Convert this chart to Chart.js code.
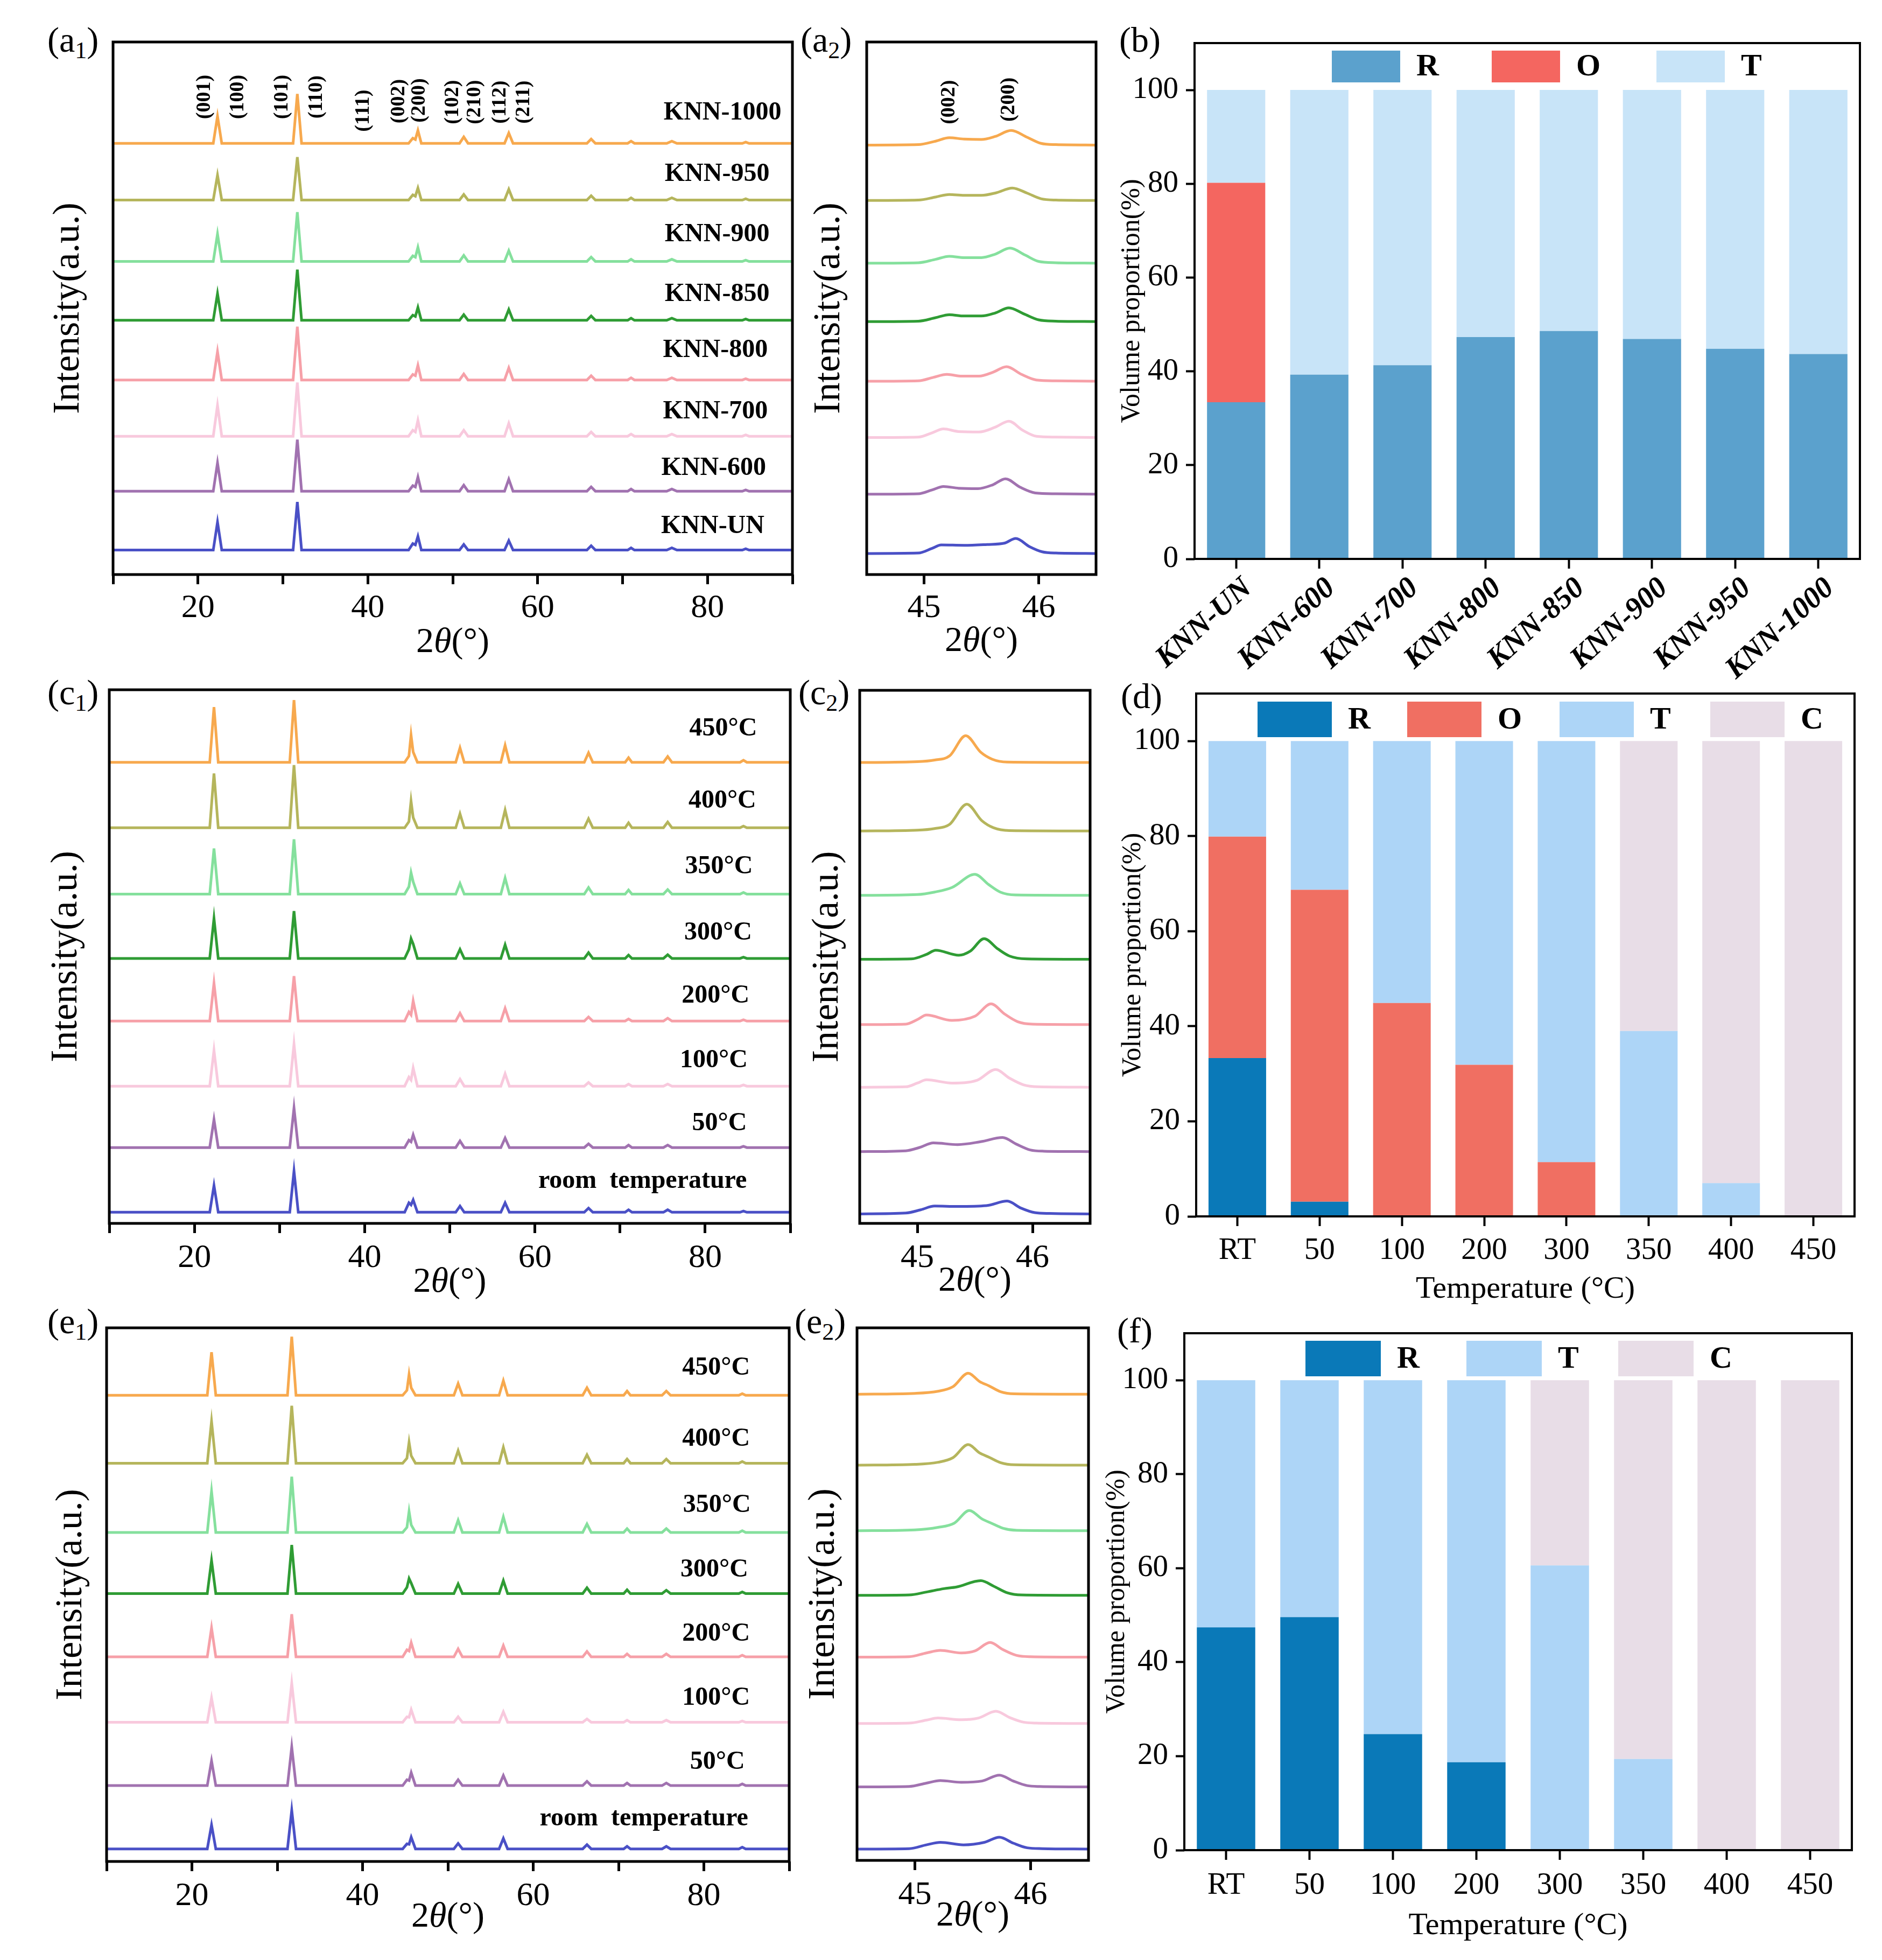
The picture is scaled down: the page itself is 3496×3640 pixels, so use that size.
<!DOCTYPE html>
<html>
<head>
<meta charset="utf-8">
<script src="https://cdn.jsdelivr.net/npm/chart.js@4.4.1/dist/chart.umd.min.js"></script>
<style>
  body { margin: 0; background: #fff; }
  #page { position: relative; width: 3496px; height: 3640px; background: #fff; overflow: hidden; font-family: "Liberation Serif", serif; }
  canvas { position: absolute; }
  .tag { position: absolute; font-size: 66px; line-height: 1; color: #000; white-space: nowrap; }
  .tag sub { font-size: 44px; vertical-align: -0.28em; }
</style>
</head>
<body>
<div id="page">
  <div class="tag" style="left:88px;top:41px">(a<sub>1</sub>)</div>
  <div class="tag" style="left:1487px;top:41px">(a<sub>2</sub>)</div>
  <div class="tag" style="left:2079px;top:41px">(b)</div>
  <div class="tag" style="left:88px;top:1253px">(c<sub>1</sub>)</div>
  <div class="tag" style="left:1483px;top:1253px">(c<sub>2</sub>)</div>
  <div class="tag" style="left:2082px;top:1260px">(d)</div>
  <div class="tag" style="left:88px;top:2421px">(e<sub>1</sub>)</div>
  <div class="tag" style="left:1476px;top:2421px">(e<sub>2</sub>)</div>
  <div class="tag" style="left:2075px;top:2438px">(f)</div>
</div>
<script>
// curve colours, top trace first
const curveColors = ['#F7A94E', '#B5B55C', '#85E09D', '#2F9C34', '#F6A0A8', '#F8C9DD', '#A172B0', '#4A50C6'];

// ---------- (a1) full scans of the annealed series ----------
const a1Names = ['KNN-1000', 'KNN-950', 'KNN-900', 'KNN-850', 'KNN-800', 'KNN-700', 'KNN-600', 'KNN-UN'];
const a1Offsets = [1004, 872, 729, 592, 453, 322, 194, 57];
const a1Base = [10, 21.8, 22.8, 31.2, 32.2, 44.8, 46.3, 50.8, 51.8, 56.1, 57.1, 65.8, 66.8, 70.6, 71.4, 75.2, 76.4, 84.1, 84.9, 90];
const a1PeakPos = [22.3, 31.7, 45.3, 45.6, 45.9, 51.3, 56.6, 66.3, 71.0, 75.8, 84.5];
const a1Heights = [
  [63, 115, 12, 9, 30, 15, 24, 10, 5, 5, 3],
  [58, 100, 12, 9, 28, 13, 25, 10, 5, 5, 3],
  [64, 115, 13, 10, 33, 14, 25, 10, 5, 5, 3],
  [62, 118, 12, 9, 30, 13, 25, 10, 5, 5, 3],
  [66, 124, 13, 10, 34, 14, 28, 10, 5, 5, 3],
  [72, 125, 14, 10, 37, 14, 30, 10, 5, 5, 3],
  [66, 120, 13, 10, 33, 14, 28, 10, 5, 5, 3],
  [65, 112, 15, 12, 32, 13, 22, 10, 5, 5, 3]
];
const a1LabelX = [88.7, 87.3, 87.3, 87.3, 87.1, 87.1, 86.9, 86.7];
const a1LabelY = [1075, 932, 792, 652, 522, 379, 247, 112];
const a1HklText = ['(001)', '(100)', '(101)', '(110)', '(111)', '(002)', '(200)', '(102)', '(210)', '(112)', '(211)'];
const a1HklX = [20.8, 24.7, 29.9, 34.0, 39.5, 43.7, 46.1, 50.0, 52.6, 55.6, 58.4];
const a1HklY = [1112, 1112, 1112, 1112, 1080, 1102, 1104, 1100, 1100, 1100, 1100];

// ---------- (a2) 44.5-46.5 window ----------
const a2Offsets = [1000, 871, 725, 589, 450, 319, 187, 49];
const a2Curves = [
  [[44.5, 0], [44.95, 1], [45.1, 9], [45.22, 17], [45.35, 14], [45.5, 13], [45.62, 20], [45.76, 34], [45.9, 18], [46.02, 4], [46.15, 1], [46.5, 0]],
  [[44.5, 0], [44.95, 1], [45.1, 8], [45.22, 14], [45.35, 12], [45.5, 12], [45.63, 18], [45.77, 29], [45.9, 17], [46.02, 4], [46.15, 1], [46.5, 0]],
  [[44.5, 0], [44.95, 1], [45.1, 9], [45.22, 16], [45.35, 13], [45.5, 13], [45.62, 21], [45.75, 35], [45.88, 19], [46.0, 4], [46.15, 1], [46.5, 0]],
  [[44.5, 0], [44.95, 1], [45.1, 9], [45.22, 16], [45.35, 13], [45.5, 13], [45.62, 20], [45.74, 32], [45.87, 18], [46.0, 4], [46.15, 1], [46.5, 0]],
  [[44.5, 0], [44.95, 1], [45.08, 9], [45.2, 16], [45.33, 12], [45.48, 12], [45.6, 21], [45.72, 34], [45.85, 16], [45.98, 3], [46.15, 1], [46.5, 0]],
  [[44.5, 0], [44.95, 1], [45.07, 11], [45.17, 20], [45.3, 14], [45.48, 13], [45.62, 24], [45.74, 38], [45.86, 17], [45.98, 3], [46.15, 1], [46.5, 0]],
  [[44.5, 0], [44.95, 1], [45.07, 10], [45.17, 18], [45.3, 14], [45.47, 13], [45.6, 22], [45.71, 36], [45.84, 16], [45.97, 3], [46.15, 1], [46.5, 0]],
  [[44.5, 0], [44.95, 1], [45.07, 12], [45.15, 20], [45.35, 19], [45.55, 21], [45.7, 24], [45.8, 35], [45.92, 16], [46.03, 4], [46.15, 1], [46.5, 0]]
];
const a2HklText = ['(002)', '(200)'];
const a2HklX = [45.22, 45.74];
const a2HklY = [1100, 1106];

// ---------- temperature series (c: heating, e: second run) ----------
const tempNames = ['450°C', '400°C', '350°C', '300°C', '200°C', '100°C', '50°C', 'room  temperature'];
const scanBase = [10, 21.8, 22.8, 31.2, 32.2, 44.7, 46.2, 50.7, 51.7, 56.0, 57.0, 65.8, 66.8, 70.6, 71.4, 75.1, 76.1, 84.1, 84.9, 90];
const scanPeakPos = [22.3, 31.7, 45.2, 45.45, 45.7, 51.2, 56.5, 66.3, 71.0, 75.6, 84.5];

const c1Offsets = [1119, 960, 799, 643, 491, 333, 184, 27];
const c1Heights = [
  [134, 151, 15, 66, 25, 35, 41, 23, 11, 14, 5],
  [132, 152, 15, 65, 25, 34, 43, 22, 12, 14, 4],
  [111, 133, 18, 52, 30, 26, 39, 16, 10, 11, 4],
  [97, 115, 22, 48, 35, 22, 33, 14, 8, 9, 3],
  [92, 109, 22, 15, 49, 19, 31, 10, 5, 7, 3],
  [87, 102, 22, 15, 44, 17, 30, 9, 5, 5, 3],
  [68, 96, 18, 14, 31, 16, 23, 9, 6, 6, 3],
  [65, 100, 23, 18, 30, 15, 23, 10, 6, 6, 3]
];
const c1LabelX = [86.1, 86.0, 85.6, 85.5, 85.2, 85.0, 84.9, 84.9];
const c1LabelY = [1200, 1025, 865, 705, 552, 395, 242, 102];

const c2Offsets = [1117, 951, 795, 640, 482, 330, 174, 23];
const c2Curves = [
  [[44.5, 0], [45.0, 2], [45.15, 6], [45.28, 16], [45.42, 65], [45.55, 25], [45.65, 8], [45.78, 1], [46.5, 0]],
  [[44.5, 0], [45.0, 2], [45.15, 6], [45.28, 16], [45.43, 65], [45.56, 25], [45.66, 8], [45.8, 1], [46.5, 0]],
  [[44.5, 0], [45.0, 2], [45.15, 8], [45.3, 19], [45.5, 51], [45.62, 26], [45.72, 8], [45.85, 1], [46.5, 0]],
  [[44.5, 0], [44.95, 1], [45.08, 12], [45.16, 22], [45.36, 10], [45.46, 20], [45.58, 50], [45.7, 25], [45.8, 8], [45.95, 1], [46.5, 0]],
  [[44.5, 0], [44.9, 1], [45.0, 12], [45.08, 23], [45.3, 10], [45.5, 20], [45.64, 50], [45.76, 25], [45.87, 7], [46.0, 1], [46.5, 0]],
  [[44.5, 0], [44.9, 1], [45.0, 10], [45.08, 18], [45.3, 10], [45.52, 17], [45.68, 43], [45.8, 22], [45.92, 6], [46.05, 1], [46.5, 0]],
  [[44.5, 0], [44.9, 2], [45.02, 10], [45.14, 21], [45.35, 17], [45.55, 24], [45.74, 34], [45.86, 18], [45.98, 4], [46.1, 1], [46.5, 0]],
  [[44.5, 0], [44.9, 2], [45.03, 10], [45.15, 19], [45.35, 18], [45.6, 20], [45.78, 31], [45.9, 14], [46.02, 3], [46.15, 1], [46.5, 0]]
];

const e1Offsets = [1112, 950, 785, 639, 488, 332, 181, 30];
const e1Heights = [
  [103, 140, 12, 50, 18, 28, 35, 18, 10, 10, 4],
  [100, 137, 12, 50, 18, 30, 38, 20, 10, 10, 4],
  [98, 133, 12, 50, 18, 29, 37, 20, 9, 9, 4],
  [79, 116, 15, 36, 25, 23, 31, 14, 9, 8, 4],
  [69, 102, 17, 14, 34, 19, 27, 13, 7, 7, 4],
  [58, 93, 13, 12, 30, 13, 25, 8, 5, 5, 3],
  [59, 92, 14, 12, 31, 14, 24, 10, 6, 6, 4],
  [57, 92, 12, 11, 28, 13, 25, 10, 6, 6, 4]
];
const e1LabelX = [85.4, 85.4, 85.5, 85.2, 85.4, 85.4, 84.8, 85.2];
const e1LabelY = [1177, 1008, 850, 695, 543, 390, 237, 102];

const e2Offsets = [1110, 941, 785, 631, 484, 326, 175, 27];
const e2Curves = [
  [[44.5, 0], [45.0, 2], [45.2, 7], [45.33, 18], [45.46, 50], [45.56, 30], [45.64, 20], [45.74, 6], [45.86, 1], [46.5, 0]],
  [[44.5, 0], [45.0, 2], [45.2, 7], [45.33, 18], [45.46, 49], [45.56, 29], [45.64, 19], [45.74, 6], [45.86, 1], [46.5, 0]],
  [[44.5, 0], [45.0, 2], [45.2, 8], [45.34, 18], [45.47, 48], [45.58, 28], [45.66, 18], [45.76, 6], [45.88, 1], [46.5, 0]],
  [[44.5, 0], [44.95, 1], [45.1, 8], [45.25, 16], [45.36, 20], [45.57, 35], [45.68, 22], [45.8, 6], [45.92, 1], [46.5, 0]],
  [[44.5, 0], [44.95, 1], [45.1, 10], [45.22, 16], [45.4, 10], [45.52, 15], [45.65, 35], [45.76, 18], [45.88, 4], [46.0, 1], [46.5, 0]],
  [[44.5, 0], [44.95, 1], [45.1, 8], [45.2, 13], [45.4, 9], [45.55, 13], [45.7, 29], [45.82, 14], [45.94, 3], [46.05, 1], [46.5, 0]],
  [[44.5, 0], [44.95, 1], [45.1, 9], [45.22, 15], [45.4, 11], [45.58, 14], [45.73, 28], [45.85, 14], [45.97, 3], [46.08, 1], [46.5, 0]],
  [[44.5, 0], [44.95, 1], [45.1, 10], [45.22, 16], [45.42, 10], [45.6, 16], [45.73, 28], [45.85, 14], [45.97, 3], [46.1, 1], [46.5, 0]]
];

// ---------- phase fractions (%) ----------
const bCats = ['KNN-UN', 'KNN-600', 'KNN-700', 'KNN-800', 'KNN-850', 'KNN-900', 'KNN-950', 'KNN-1000'];
const bR = [33.4, 39.3, 41.3, 47.3, 48.6, 46.9, 44.8, 43.7];
const bO = [46.8, 0, 0, 0, 0, 0, 0, 0];
const bT = [19.8, 60.7, 58.7, 52.7, 51.4, 53.1, 55.2, 56.3];

const tempCats = ['RT', '50', '100', '200', '300', '350', '400', '450'];
const dR = [33.3, 3.1, 0, 0, 0, 0, 0, 0];
const dO = [46.6, 65.6, 44.9, 31.9, 11.4, 0, 0, 0];
const dT = [20.1, 31.3, 55.1, 68.1, 88.6, 39.0, 7.0, 0];
const dC = [0, 0, 0, 0, 0, 61.0, 93.0, 100];

const fR = [47.4, 49.6, 24.7, 18.7, 0, 0, 0, 0];
const fT = [52.6, 50.4, 75.3, 81.3, 60.6, 19.4, 0, 0];
const fC = [0, 0, 0, 0, 39.4, 80.6, 100, 100];

const volTicks = [0, 20, 40, 60, 80, 100];

// ---------- drawing helpers ----------
const SERIF = '"Liberation Serif", "Times New Roman", serif';
Chart.defaults.font.family = SERIF;
Chart.defaults.color = '#000';

function mountCanvas(area, m) {
  const c = document.createElement('canvas');
  const w = area[2] - area[0] + m.l + m.r;
  const h = area[3] - area[1] + m.t + m.b;
  c.width = w;
  c.height = h;
  c.style.left = (area[0] - m.l) + 'px';
  c.style.top = (area[1] - m.t) + 'px';
  c.style.width = w + 'px';
  c.style.height = h + 'px';
  document.getElementById('page').appendChild(c);
  return c;
}

// frame, trace labels, hkl labels, 2θ title and box legend
const panelText = {
  id: 'panelText',
  afterDraw(chart, args, opts) {
    const { ctx, chartArea: a, scales } = chart;
    ctx.save();
    ctx.fillStyle = '#000';
    ctx.strokeStyle = '#000';
    ctx.lineWidth = opts.frame || 5;
    ctx.strokeRect(a.left, a.top, a.right - a.left, a.bottom - a.top);

    (opts.labels || []).forEach(l => {
      ctx.font = 'bold ' + (opts.labelSize || 48) + 'px ' + SERIF;
      ctx.textAlign = 'right';
      ctx.textBaseline = 'middle';
      ctx.fillText(l.text, scales.x.getPixelForValue(l.x), scales.y.getPixelForValue(l.y));
    });

    (opts.hkl || []).forEach(p => {
      ctx.save();
      ctx.translate(scales.x.getPixelForValue(p.x), scales.y.getPixelForValue(p.y));
      ctx.rotate(-Math.PI / 2);
      ctx.font = 'bold 38px ' + SERIF;
      ctx.textAlign = 'center';
      ctx.textBaseline = 'middle';
      ctx.fillText(p.text, 0, 0);
      ctx.restore();
    });

    if (opts.twoTheta) {
      const size = 66;
      const parts = [['2', ''], ['θ', 'italic '], ['(°)', '']];
      let total = 0;
      parts.forEach(p => { ctx.font = p[1] + size + 'px ' + SERIF; total += ctx.measureText(p[0]).width; });
      let x = (a.left + a.right) / 2 - total / 2;
      const y = a.bottom + opts.twoTheta;
      ctx.textAlign = 'left';
      ctx.textBaseline = 'middle';
      parts.forEach(p => {
        ctx.font = p[1] + size + 'px ' + SERIF;
        ctx.fillText(p[0], x, y);
        x += ctx.measureText(p[0]).width;
      });
    }

    if (opts.legend) {
      const lg = opts.legend;
      chart.data.datasets.forEach((ds, i) => {
        const x = a.left + lg.lefts[i];
        const y = a.top + lg.top;
        ctx.fillStyle = ds.backgroundColor;
        ctx.fillRect(x, y, lg.w, lg.h);
        ctx.fillStyle = '#000';
        ctx.font = 'bold 58px ' + SERIF;
        ctx.textAlign = 'left';
        ctx.textBaseline = 'middle';
        ctx.fillText(ds.label, x + lg.w + 30, y + lg.h / 2 + 2);
      });
    }
    ctx.restore();
  }
};

function stackedScan(base, pos, heights, offset) {
  const pts = base.map(x => ({ x, y: offset }));
  pos.forEach((p, i) => pts.push({ x: p, y: offset + heights[i] }));
  pts.sort((p, q) => p.x - q.x);
  return pts;
}

function shiftedCurve(curve, offset) {
  return curve.map(([x, h]) => ({ x, y: offset + h }));
}

// keep the plot box exactly where it was measured
function fixHeight(px) {
  return s => { s.height = px; s.paddingLeft = 0; s.paddingRight = 0; };
}
function fixWidth(px) {
  return s => { s.width = px; s.paddingTop = 0; s.paddingBottom = 0; };
}

function xrdChart(area, m, cfg) {
  const canvas = mountCanvas(area, m);
  return new Chart(canvas, {
    type: 'line',
    data: {
      datasets: cfg.series.map((pts, i) => ({
        data: pts,
        borderColor: curveColors[i],
        borderWidth: 5,
        pointRadius: 0,
        fill: false,
        tension: cfg.smooth ? 0.4 : 0,
        cubicInterpolationMode: cfg.smooth ? 'monotone' : 'default'
      }))
    },
    options: {
      responsive: false,
      animation: false,
      devicePixelRatio: 1,
      events: [],
      layout: { padding: { top: m.t, right: m.r, left: 0, bottom: 0 } },
      plugins: {
        legend: { display: false },
        tooltip: { enabled: false },
        panelText: { labels: cfg.labels, hkl: cfg.hkl, twoTheta: cfg.titleDy, frame: 5 }
      },
      scales: {
        x: {
          type: 'linear',
          min: cfg.xMin,
          max: cfg.xMax,
          afterFit: fixHeight(m.b),
          afterBuildTicks: s => { s.ticks = cfg.xTicks.map(v => ({ value: v })); },
          ticks: {
            autoSkip: false,
            maxRotation: 0,
            padding: cfg.tickPad,
            color: '#000',
            font: { size: 62 },
            callback: cfg.tickLabel
          },
          grid: { display: true, drawOnChartArea: false, drawTicks: true, tickLength: 18, tickWidth: 5, tickColor: '#000' },
          border: { display: false }
        },
        y: {
          type: 'linear',
          min: 0,
          max: cfg.yMax,
          afterFit: fixWidth(m.l),
          ticks: { display: false },
          grid: { display: false },
          border: { display: false },
          title: {
            display: true,
            text: 'Intensity(a.u.)',
            color: '#000',
            font: { size: 70 },
            padding: { top: cfg.yTitlePad, bottom: 0 }
          }
        }
      }
    },
    plugins: [panelText]
  });
}

function barChart(area, m, cfg) {
  const canvas = mountCanvas(area, m);
  return new Chart(canvas, {
    type: 'bar',
    data: {
      labels: cfg.labels,
      datasets: cfg.sets.map(s => ({
        label: s.label,
        data: s.data,
        backgroundColor: s.color,
        borderWidth: 0,
        barPercentage: 0.7,
        categoryPercentage: 1
      }))
    },
    options: {
      responsive: false,
      animation: false,
      devicePixelRatio: 1,
      events: [],
      layout: { padding: { top: m.t, right: m.r, left: 0, bottom: 0 } },
      plugins: {
        legend: { display: false },
        tooltip: { enabled: false },
        panelText: { legend: cfg.legend, frame: 4 }
      },
      scales: {
        x: {
          stacked: true,
          afterFit: fixHeight(m.b),
          ticks: {
            autoSkip: false,
            minRotation: cfg.rot,
            maxRotation: cfg.rot,
            padding: cfg.tickPad,
            labelOffset: cfg.labelShift || 0,
            color: '#000',
            font: cfg.xFont
          },
          grid: { display: true, offset: false, drawOnChartArea: false, tickLength: 18, tickWidth: 4, tickColor: '#000' },
          border: { display: false },
          title: cfg.xTitle
            ? { display: true, text: cfg.xTitle, color: '#000', font: { size: 58 }, padding: { top: 0, bottom: cfg.xTitlePad } }
            : { display: false }
        },
        y: {
          stacked: true,
          min: 0,
          max: 110,
          afterFit: fixWidth(m.l),
          afterBuildTicks: s => { s.ticks = volTicks.map(v => ({ value: v })); },
          ticks: { padding: 14, color: '#000', font: { size: 57 } },
          grid: { display: true, drawOnChartArea: false, tickLength: 16, tickWidth: 4, tickColor: '#000' },
          border: { display: false },
          title: {
            display: true,
            text: 'Volume proportion(%)',
            color: '#000',
            font: { size: 50 },
            padding: { top: cfg.yTitlePad, bottom: 0 }
          }
        }
      }
    },
    plugins: [panelText]
  });
}

const wideM = { l: 150, t: 30, r: 30, b: 180 };
const narrowM = { l: 120, t: 30, r: 20, b: 180 };
const wideTicks = [10, 20, 30, 40, 50, 60, 70, 80, 90];
const wideLabel = v => (v % 20 === 0 ? v : '');
const narrowTicks = [45, 46];
const narrowLabel = v => v;

// (a1)
xrdChart([210, 78, 1472, 1067], wideM, {
  xMin: 10, xMax: 90, yMax: 1240, xTicks: wideTicks, tickLabel: wideLabel, tickPad: 8, titleDy: 127, yTitlePad: 26,
  series: a1Heights.map((h, i) => stackedScan(a1Base, a1PeakPos, h, a1Offsets[i])),
  labels: a1Names.map((t, i) => ({ text: t, x: a1LabelX[i], y: a1LabelY[i] })),
  hkl: a1HklText.map((t, i) => ({ text: t, x: a1HklX[i], y: a1HklY[i] }))
});

// (a2)
xrdChart([1610, 78, 2036, 1067], narrowM, {
  xMin: 44.5, xMax: 46.5, yMax: 1240, xTicks: narrowTicks, tickLabel: narrowLabel, tickPad: 8, titleDy: 125, yTitlePad: 9, smooth: true,
  series: a2Curves.map((c, i) => shiftedCurve(c, a2Offsets[i])),
  hkl: a2HklText.map((t, i) => ({ text: t, x: a2HklX[i], y: a2HklY[i] }))
});

// (c1)
xrdChart([203, 1281, 1468, 2272], wideM, {
  xMin: 10, xMax: 90, yMax: 1295, xTicks: wideTicks, tickLabel: wideLabel, tickPad: 10, titleDy: 110, yTitlePad: 29,
  series: c1Heights.map((h, i) => stackedScan(scanBase, scanPeakPos, h, c1Offsets[i])),
  labels: tempNames.map((t, i) => ({ text: t, x: c1LabelX[i], y: c1LabelY[i] }))
});

// (c2)
xrdChart([1597, 1282, 2025, 2272], narrowM, {
  xMin: 44.5, xMax: 46.5, yMax: 1292, xTicks: narrowTicks, tickLabel: narrowLabel, tickPad: 10, titleDy: 108, yTitlePad: 19, smooth: true,
  series: c2Curves.map((c, i) => shiftedCurve(c, c2Offsets[i]))
});

// (e1)
xrdChart([198, 2466, 1466, 3457], wideM, {
  xMin: 10, xMax: 90, yMax: 1273, xTicks: wideTicks, tickLabel: wideLabel, tickPad: 10, titleDy: 104, yTitlePad: 43,
  series: e1Heights.map((h, i) => stackedScan(scanBase, scanPeakPos, h, e1Offsets[i])),
  labels: tempNames.map((t, i) => ({ text: t, x: e1LabelX[i], y: e1LabelY[i] }))
});

// (e2)
xrdChart([1592, 2466, 2022, 3455], narrowM, {
  xMin: 44.5, xMax: 46.5, yMax: 1268, xTicks: narrowTicks, tickLabel: narrowLabel, tickPad: 10, titleDy: 104, yTitlePad: 17, smooth: true,
  series: e2Curves.map((c, i) => shiftedCurve(c, e2Offsets[i]))
});

// (b)
barChart([2219, 80, 3455, 1038], { l: 170, t: 30, r: 30, b: 230 }, {
  labels: bCats, rot: 42, tickPad: 4, labelShift: 22, yTitlePad: 24,
  xFont: { size: 56, style: 'italic', weight: 'bold' },
  sets: [
    { label: 'R', data: bR, color: '#5BA1CD' },
    { label: 'O', data: bO, color: '#F46660' },
    { label: 'T', data: bT, color: '#C8E4F8' }
  ],
  legend: { lefts: [255, 552, 858], top: 14, w: 127, h: 59 }
});

// (d)
barChart([2222, 1288, 3445, 2259], { l: 170, t: 30, r: 30, b: 200 }, {
  labels: tempCats, rot: 0, tickPad: 12, yTitlePad: 23, xTitle: 'Temperature (°C)', xTitlePad: 29,
  xFont: { size: 57 },
  sets: [
    { label: 'R', data: dR, color: '#0A79B8' },
    { label: 'O', data: dO, color: '#F06F62' },
    { label: 'T', data: dT, color: '#ADD5F7' },
    { label: 'C', data: dC, color: '#E8DDE7' }
  ],
  legend: { lefts: [114, 392, 675, 955], top: 15, w: 138, h: 66 }
});

// (f)
barChart([2200, 2476, 3440, 3436], { l: 170, t: 30, r: 30, b: 200 }, {
  labels: tempCats, rot: 0, tickPad: 14, yTitlePad: 15, xTitle: 'Temperature (°C)', xTitlePad: 24,
  xFont: { size: 57 },
  sets: [
    { label: 'R', data: fR, color: '#0A79B8' },
    { label: 'T', data: fT, color: '#ADD5F7' },
    { label: 'C', data: fC, color: '#E8DDE7' }
  ],
  legend: { lefts: [225, 524, 806], top: 14, w: 140, h: 66 }
});
</script>
</body>
</html>
